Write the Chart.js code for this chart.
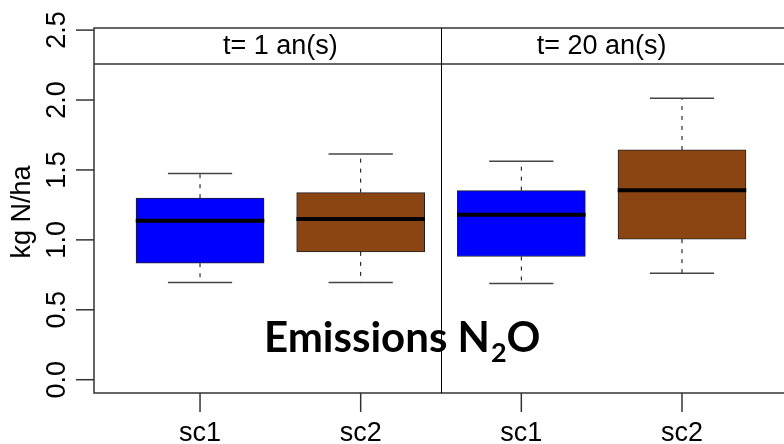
<!DOCTYPE html>
<html>
<head>
<meta charset="utf-8">
<script src="https://cdn.jsdelivr.net/npm/chart.js@4.4.0/dist/chart.umd.min.js"></script>
<style>
  html, body { margin: 0; padding: 0; background: #fff; overflow: hidden; }
</style>
</head>
<body>
<canvas id="chart" width="784" height="444"></canvas>
<script>
// Data
const categories = ["sc1", "sc2", "sc1", "sc2"];
const panelLabels = ["t= 1 an(s)", "t= 20 an(s)"];
const xPos = [1, 2, 3, 4];
const whiskerLow = [0.695, 0.695, 0.688, 0.762];
const q1 = [0.833, 0.914, 0.881, 1.005];
const median = [1.136, 1.150, 1.179, 1.355];
const q3 = [1.298, 1.338, 1.352, 1.643];
const whiskerHigh = [1.474, 1.614, 1.562, 2.012];
const yTicks = [0, 0.5, 1.0, 1.5, 2.0, 2.5];

const boxColors = ["#0000ff", "#8b4513", "#0000ff", "#8b4513"];
const rFont = '"Liberation Sans", Arial, sans-serif';

// Box extras: whiskers, medians, frame, strips, axes
const boxPlugin = {
    id: "boxExtras",
    beforeDraw(chart) {
        const c = chart.ctx;
        c.save();
        c.fillStyle = "#fff";
        c.fillRect(0, 0, chart.width, chart.height);
        c.restore();
    },
    beforeDatasetsDraw(chart) {
        const c = chart.ctx, xs = chart.scales.x, ys = chart.scales.y;
        c.save();
        xPos.forEach((x, i) => {
            const px = xs.getPixelForValue(x);
            const capHalf = (xs.getPixelForValue(x + 0.2) - px);
            // dashed whiskers
            c.strokeStyle = "#000";
            c.lineWidth = 1;
            c.setLineDash([4, 6]);
            c.beginPath();
            c.moveTo(px, ys.getPixelForValue(q3[i]));
            c.lineTo(px, ys.getPixelForValue(whiskerHigh[i]));
            c.moveTo(px, ys.getPixelForValue(q1[i]));
            c.lineTo(px, ys.getPixelForValue(whiskerLow[i]));
            c.stroke();
            // caps
            c.setLineDash([]);
            c.strokeStyle = "#444";
            c.lineWidth = 1.5;
            c.beginPath();
            [whiskerHigh[i], whiskerLow[i]].forEach(v => {
                const py = ys.getPixelForValue(v);
                c.moveTo(px - capHalf, py);
                c.lineTo(px + capHalf, py);
            });
            c.stroke();
        });
        c.restore();
    },
    afterDatasetsDraw(chart) {
        const c = chart.ctx, xs = chart.scales.x, ys = chart.scales.y;
        const a = chart.chartArea;
        c.save();
        // medians
        c.strokeStyle = "#000";
        c.lineWidth = 4;
        xPos.forEach((x, i) => {
            const py = ys.getPixelForValue(median[i]);
            c.beginPath();
            c.moveTo(xs.getPixelForValue(x - 0.4), py);
            c.lineTo(xs.getPixelForValue(x + 0.4), py);
            c.stroke();
        });

        // title overlay
        c.fillStyle = "#000";
        c.textBaseline = "alphabetic";
        c.textAlign = "left";
        c.font = 'bold 42px Lato, "Open Sans", sans-serif';
        let tx = 264;
        const base = 352;
        c.fillText("Emissions N", tx, base);
        tx += c.measureText("Emissions N").width;
        c.font = 'bold 27px Lato, "Open Sans", sans-serif';
        c.fillText("2", tx + 1, base + 10);
        tx += c.measureText("2").width + 1;
        c.font = 'bold 42px Lato, "Open Sans", sans-serif';
        c.fillText("O", tx, base);

        // frame
        const stripBottom = a.top + 36;
        c.strokeStyle = "#333";
        c.lineWidth = 1.5;
        c.beginPath();
        c.moveTo(a.right, a.top); c.lineTo(a.left, a.top);
        c.lineTo(a.left, a.bottom); c.lineTo(a.right, a.bottom);
        c.moveTo(a.left, stripBottom); c.lineTo(a.right, stripBottom);
        c.stroke();
        c.strokeStyle = "#000";
        c.lineWidth = 1;
        const dx = Math.round(xs.getPixelForValue(2.5)) + 0.5;
        c.beginPath();
        c.moveTo(dx, a.top); c.lineTo(dx, a.bottom);
        c.stroke();

        // strip labels
        c.font = "27px " + rFont;
        c.textAlign = "center";
        c.textBaseline = "middle";
        c.fillText(panelLabels[0], xs.getPixelForValue(1.5), (a.top + stripBottom) / 2 + 1);
        c.fillText(panelLabels[1], xs.getPixelForValue(3.5), (a.top + stripBottom) / 2 + 1);

        // x axis ticks and labels
        c.strokeStyle = "#333";
        c.lineWidth = 1.5;
        c.textBaseline = "alphabetic";
        xPos.forEach((x, i) => {
            const px = xs.getPixelForValue(x);
            c.beginPath();
            c.moveTo(px, a.bottom); c.lineTo(px, a.bottom + 19);
            c.stroke();
            c.fillText(categories[i], px, a.bottom + 48);
        });

        // y axis ticks and labels
        c.font = "27px " + rFont;
        yTicks.forEach(v => {
            const py = ys.getPixelForValue(v);
            c.beginPath();
            c.moveTo(a.left - 18, py); c.lineTo(a.left, py);
            c.stroke();
            c.save();
            c.translate(a.left - 36, py);
            c.rotate(-Math.PI / 2);
            c.textBaseline = "middle";
            c.fillText(v.toFixed(1), 0, 0);
            c.restore();
        });
        c.save();
        c.translate(23, ys.getPixelForValue(1.2));
        c.rotate(-Math.PI / 2);
        c.textBaseline = "middle";
        c.font = "27px " + rFont;
        c.fillText("kg N/ha", 0, 0);
        c.restore();
        c.restore();
    }
};

new Chart(document.getElementById("chart"), {
    type: "bar",
    data: {
        datasets: [{
            data: xPos.map((x, i) => ({ x: x, y: [q1[i], q3[i]] })),
            backgroundColor: boxColors,
            borderColor: "#222",
            borderWidth: 1,
            borderSkipped: false,
            barThickness: 128
        }]
    },
    options: {
        responsive: false,
        animation: false,
        layout: { padding: { left: 94, top: 28, right: 0, bottom: 51 } },
        scales: {
            x: { type: "linear", offset: false, min: 0.34, max: 4.635, display: false },
            y: { min: -0.095, max: 2.515, display: false }
        },
        plugins: { legend: { display: false }, tooltip: { enabled: false } }
    },
    plugins: [boxPlugin]
});
</script>
</body>
</html>
